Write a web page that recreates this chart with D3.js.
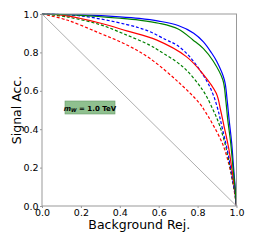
<!DOCTYPE html>
<html><head><meta charset="utf-8">
<script src="https://cdn.jsdelivr.net/npm/d3@7"></script>
<style>body{margin:0;background:#fff}svg{display:block}text{font-family:"DejaVu Sans",sans-serif}</style>
</head><body>
<script>
const xTicks=[0,0.2,0.4,0.6,0.8,1.0];
const yTicks=[0,0.2,0.4,0.6,0.8,1.0];
const blueSolidX=[0,0.2,0.4,0.5,0.6,0.7,0.78,0.83,0.87,0.9,0.938,0.952,0.962,0.975,0.985,0.993,1];
const blueSolidY=[1,0.995,0.985,0.977,0.963,0.94,0.9,0.855,0.8,0.75,0.656,0.55,0.45,0.33,0.2,0.1,0];
const greenSolidX=[0,0.2,0.4,0.5,0.6,0.7,0.776,0.83,0.88,0.93,0.945,0.955,0.97,0.982,0.992,1];
const greenSolidY=[1,0.993,0.978,0.968,0.952,0.922,0.865,0.82,0.755,0.656,0.55,0.45,0.33,0.2,0.1,0];
const blueDashX=[0,0.2,0.436,0.55,0.639,0.69,0.759,0.844,0.88,0.905,0.928,0.955,0.978,0.993,1];
const blueDashY=[1,0.99,0.945,0.91,0.865,0.84,0.778,0.656,0.58,0.5,0.4,0.28,0.15,0.06,0];
const redSolidX=[0,0.127,0.297,0.436,0.588,0.742,0.826,0.896,0.918,0.935,0.96,0.978,0.992,1];
const redSolidY=[1,0.99,0.953,0.912,0.865,0.778,0.69,0.587,0.5,0.42,0.3,0.18,0.08,0];
const greenDashX=[0,0.127,0.297,0.436,0.554,0.6,0.723,0.826,0.88,0.913,0.947,0.975,0.992,1];
const greenDashY=[1,0.985,0.945,0.89,0.838,0.81,0.726,0.604,0.5,0.42,0.3,0.16,0.06,0];
const redDashX=[0,0.127,0.297,0.434,0.554,0.708,0.81,0.84,0.87,0.93,0.965,0.985,1];
const redDashY=[1,0.969,0.90,0.84,0.769,0.639,0.535,0.49,0.44,0.32,0.2,0.1,0];
const drawOrder=[
 {x:redDashX,y:redDashY,c:"#ff0000",d:"3,2"},
 {x:greenDashX,y:greenDashY,c:"#008000",d:"3,2"},
 {x:blueDashX,y:blueDashY,c:"#0000ff",d:"3,2"},
 {x:redSolidX,y:redSolidY,c:"#ff0000",d:null},
 {x:blueSolidX,y:blueSolidY,c:"#0000ff",d:null},
 {x:greenSolidX,y:greenSolidY,c:"#008000",d:null}
];
const W=254,H=243;
const L=42,R=236.5,T=14,B=206;
const svg=d3.select("body").append("svg").attr("width",W).attr("height",H);
const x=d3.scaleLinear().domain([0,1]).range([L,R]);
const y=d3.scaleLinear().domain([0,1]).range([B,T]);
svg.append("line").attr("x1",x(0)).attr("y1",y(1)).attr("x2",x(1)).attr("y2",y(0))
 .attr("stroke","#777").attr("stroke-width",0.6);
const line=d3.line().x(d=>x(d[0])).y(d=>y(d[1])).curve(d3.curveCatmullRom.alpha(0.5));
drawOrder.forEach(s=>{
 const pts=s.x.map((v,i)=>[v,s.y[i]]);
 svg.append("path").attr("d",line(pts)).attr("fill","none").attr("stroke",s.c)
  .attr("stroke-width",1.2).attr("stroke-dasharray",s.d);
});
svg.append("rect").attr("x",L).attr("y",T).attr("width",R-L).attr("height",B-T)
 .attr("fill","none").attr("stroke","#999").attr("stroke-width",1);
const xa=svg.append("g").attr("transform",`translate(0,${B})`)
 .call(d3.axisBottom(x).tickValues(xTicks).tickFormat(d3.format(".1f")).tickSize(2).tickPadding(1.5));
const ya=svg.append("g").attr("transform",`translate(${L},0)`)
 .call(d3.axisLeft(y).tickValues(yTicks).tickFormat(d3.format(".1f")).tickSize(2).tickPadding(1.5));
[xa,ya].forEach(g=>{g.select(".domain").remove();
 g.selectAll("line").attr("stroke","#999");
 g.selectAll("text").attr("font-size",9.5).attr("fill","#000").attr("font-family","DejaVu Sans");});
svg.append("text").attr("x",(L+R)/2).attr("y",229).attr("text-anchor","middle")
 .attr("font-size",12.5).text("Background Rej.");
svg.append("text").attr("transform",`translate(21,${(T+B)/2}) rotate(-90)`).attr("text-anchor","middle")
 .attr("font-size",12.5).text("Signal Acc.");
const g=svg.append("g");
g.append("rect").attr("x",65).attr("y",101).attr("width",50).attr("height",13)
 .attr("fill","#8fc08f").attr("stroke","#6a9a6a").attr("stroke-width",0.6);
const t=g.append("text").attr("x",90).attr("y",110.5).attr("text-anchor","middle").attr("font-size",7).attr("font-weight","bold");
t.append("tspan").attr("font-style","italic").text("m");
t.append("tspan").attr("font-size",5).attr("dy",1.5).attr("font-style","italic").text("W");
t.append("tspan").attr("dy",-1.5).text(" = 1.0 TeV");
</script>
</body></html>
